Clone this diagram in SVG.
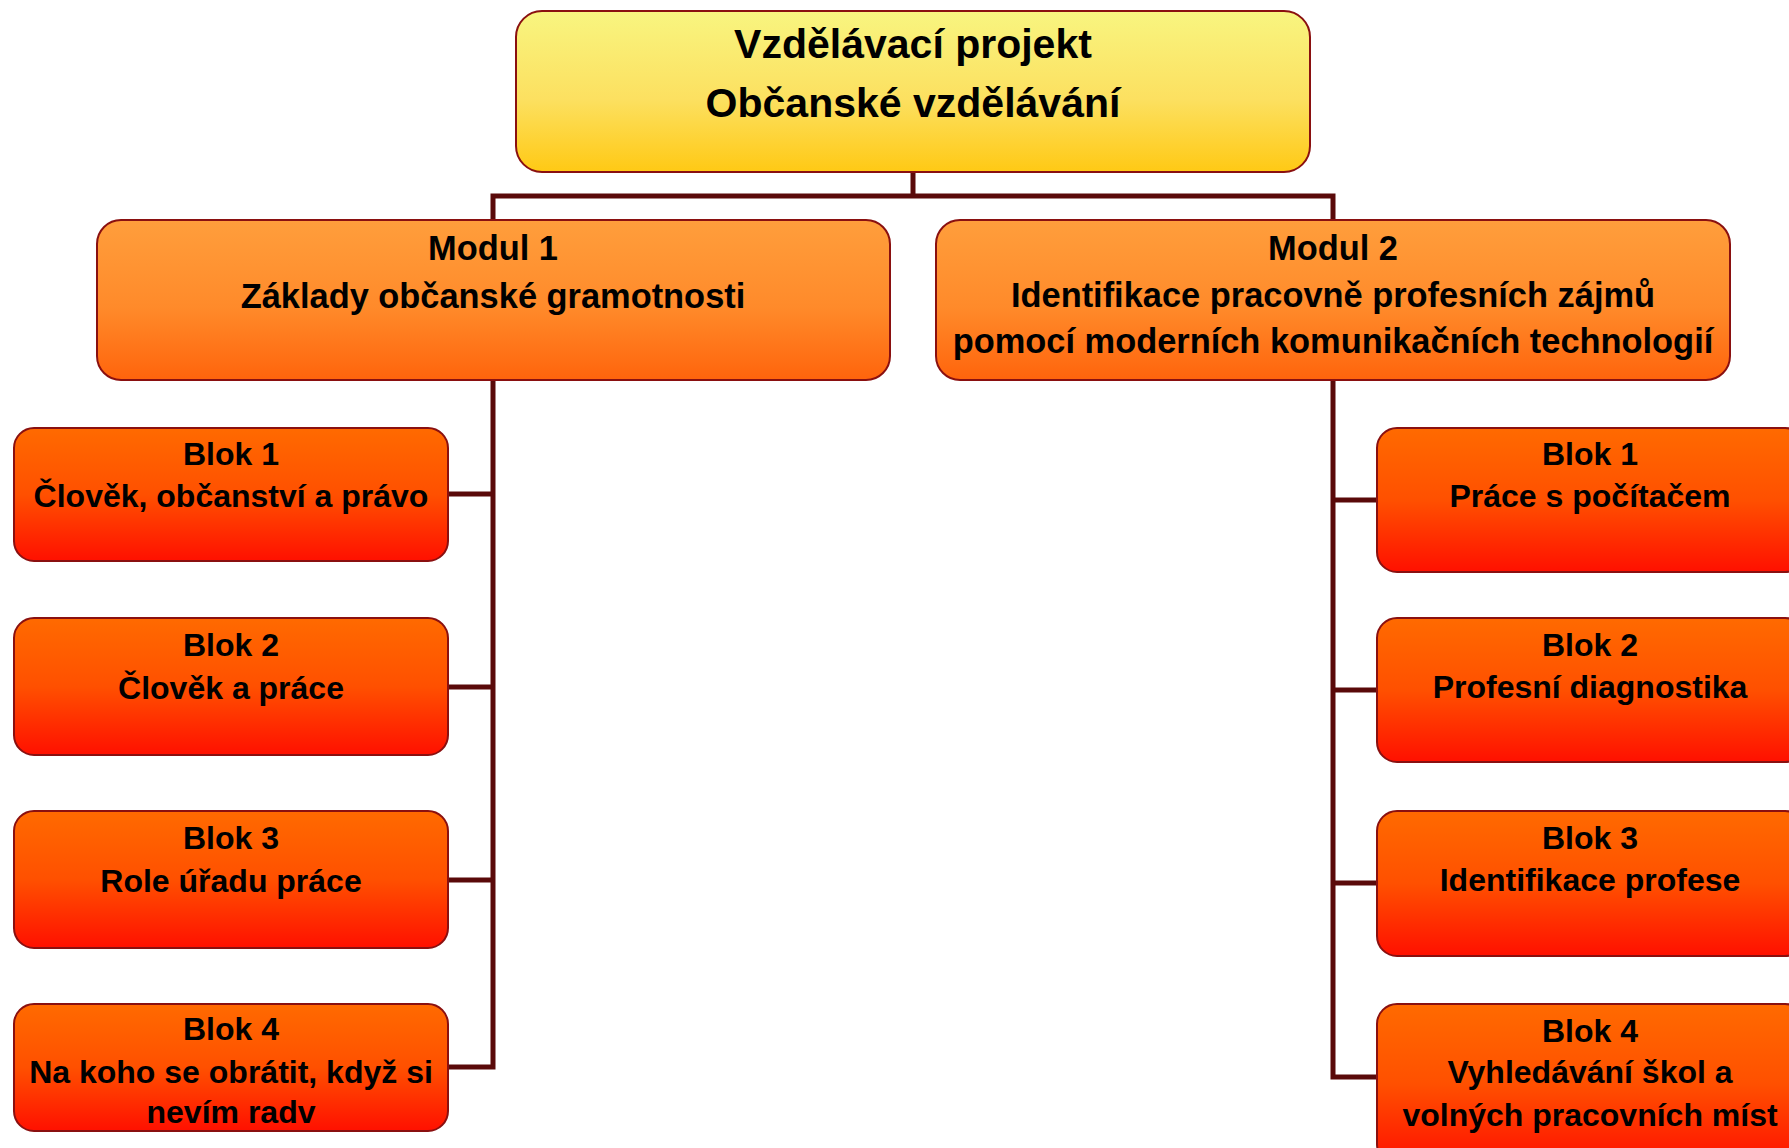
<svg xmlns="http://www.w3.org/2000/svg" width="1789" height="1148" viewBox="0 0 1789 1148">
<defs>
<linearGradient id="gTop" x1="0" y1="0" x2="0" y2="1">
<stop offset="0" stop-color="#F8F580"/>
<stop offset="0.55" stop-color="#FCE060"/>
<stop offset="1" stop-color="#FFC914"/>
</linearGradient>
<linearGradient id="gMod" x1="0" y1="0" x2="0" y2="1">
<stop offset="0" stop-color="#FF9E3C"/>
<stop offset="0.55" stop-color="#FF8A2A"/>
<stop offset="1" stop-color="#FF640C"/>
</linearGradient>
<linearGradient id="gBlk" x1="0" y1="0" x2="0" y2="1">
<stop offset="0" stop-color="#FF6A00"/>
<stop offset="0.5" stop-color="#FF5000"/>
<stop offset="1" stop-color="#FF1000"/>
</linearGradient>
</defs>
<style>
.box{stroke:#8A1010;stroke-width:2}
.top{fill:url(#gTop)}
.mod{fill:url(#gMod)}
.blk{fill:url(#gBlk)}
text{font-family:"Liberation Sans",Arial,sans-serif;font-weight:bold;fill:#000;text-anchor:middle}
.t1{font-size:41px}
.t2{font-size:34.4px}
.t3{font-size:32px}
.con{fill:none;stroke:#5A0A0A;stroke-width:5}
</style>
<rect width="1789" height="1148" fill="#fff"/>
<g id="connectors">
<path class="con" d="M913 172V196M493 220V196H1333V220"/>
<path class="con" d="M493 380V1067H448M448 494H493M448 687H493M448 880H493"/>
<path class="con" d="M1333 380V1077H1377M1333 500H1377M1333 690H1377M1333 883H1377"/>
</g>
<g id="root">
<rect class="box top" x="516" y="11" width="794" height="161" rx="26"/>
<text class="t1" x="913" y="58">Vzdělávací projekt</text>
<text class="t1" x="913" y="117">Občanské vzdělávání</text>
</g>
<g id="modul1">
<rect class="box mod" x="97" y="220" width="793" height="160" rx="24"/>
<text class="t2" x="493" y="260">Modul 1</text>
<text class="t2" x="493" y="308">Základy občanské gramotnosti</text>
</g>
<g id="modul2">
<rect class="box mod" x="936" y="220" width="794" height="160" rx="24"/>
<text class="t2" x="1333" y="260">Modul 2</text>
<text class="t2" x="1333" y="307">Identifikace pracovně profesních zájmů</text>
<text class="t2" x="1333" y="353">pomocí moderních komunikačních technologií</text>
</g>
<g id="m1-blok1">
<rect class="box blk" x="14" y="428" width="434" height="133" rx="20"/>
<text class="t3" x="231" y="465">Blok 1</text>
<text class="t3" x="231" y="507">Člověk, občanství a právo</text>
</g>
<g id="m1-blok2">
<rect class="box blk" x="14" y="618" width="434" height="137" rx="20"/>
<text class="t3" x="231" y="656">Blok 2</text>
<text class="t3" x="231" y="699">Člověk a práce</text>
</g>
<g id="m1-blok3">
<rect class="box blk" x="14" y="811" width="434" height="137" rx="20"/>
<text class="t3" x="231" y="849">Blok 3</text>
<text class="t3" x="231" y="892">Role úřadu práce</text>
</g>
<g id="m1-blok4">
<rect class="box blk" x="14" y="1004" width="434" height="127" rx="20"/>
<text class="t3" x="231" y="1040">Blok 4</text>
<text class="t3" x="231" y="1083">Na koho se obrátit, když si</text>
<text class="t3" x="231" y="1123">nevím radv</text>
</g>
<g id="m2-blok1">
<rect class="box blk" x="1377" y="428" width="428" height="144" rx="20"/>
<text class="t3" x="1590" y="465">Blok 1</text>
<text class="t3" x="1590" y="507">Práce s počítačem</text>
</g>
<g id="m2-blok2">
<rect class="box blk" x="1377" y="618" width="428" height="144" rx="20"/>
<text class="t3" x="1590" y="656">Blok 2</text>
<text class="t3" x="1590" y="698">Profesní diagnostika</text>
</g>
<g id="m2-blok3">
<rect class="box blk" x="1377" y="811" width="428" height="145" rx="20"/>
<text class="t3" x="1590" y="849">Blok 3</text>
<text class="t3" x="1590" y="891">Identifikace profese</text>
</g>
<g id="m2-blok4">
<rect class="box blk" x="1377" y="1004" width="428" height="160" rx="20"/>
<text class="t3" x="1590" y="1042">Blok 4</text>
<text class="t3" x="1590" y="1083">Vyhledávání škol a</text>
<text class="t3" x="1590" y="1126">volných pracovních míst</text>
</g>
</svg>
